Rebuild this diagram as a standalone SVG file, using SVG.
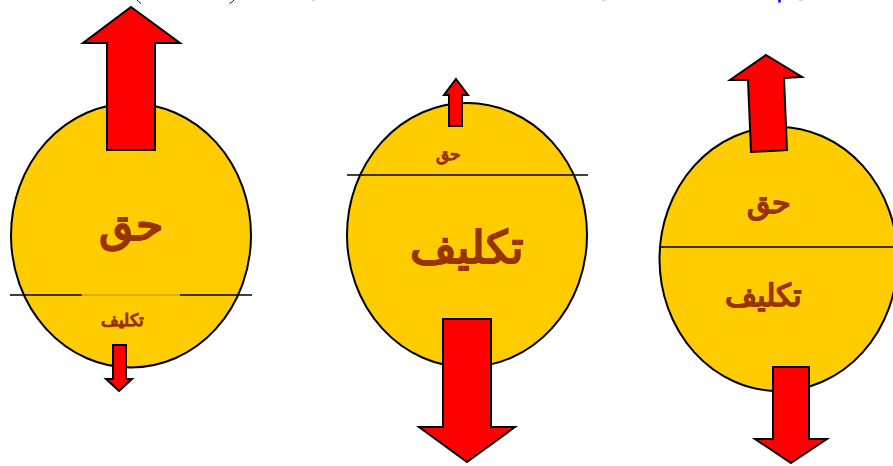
<svg xmlns="http://www.w3.org/2000/svg" width="893" height="466" viewBox="0 0 893 466">
<style>
.b{fill:#ffcc00;stroke:#000;stroke-width:2}
.a{fill:#ff0000;stroke:#000;stroke-width:2;stroke-linejoin:miter}
.l{stroke:#000;stroke-width:1.6;fill:none}
.t{font-family:"Liberation Sans",Arial,sans-serif;font-weight:bold;fill:#993300;stroke:#993300;stroke-width:.4;text-anchor:middle}
</style>
<rect width="893" height="466" fill="#fff"/>
<g id="top-fragments" fill="none" stroke="#0000ff" stroke-width="1">
<path d="M137 0Q138.500 2 141 3.500M234 0Q232.500 2 229.500 3.500"/>
<path d="M779.500 0V2.500" stroke-width="2.500"/>
<path d="M312 0.500H315M602 0.500H605M799 0.500H803" stroke-opacity=".2"/>
</g>
<g id="node-left">
<ellipse class="b" cx="131" cy="235.500" rx="120" ry="132"/>
<path class="l" d="M10 295H82M180 295H252"/>
<path d="M82 295H180" stroke="#b8960a" stroke-width="1" fill="none"/>
<text class="t" x="130.500" y="240" font-size="44">حق</text>
<text class="t" x="122" y="326" font-size="17">تكليف</text>
</g>
<g id="node-middle">
<ellipse class="b" cx="467" cy="235" rx="120" ry="132"/>
<path class="l" d="M347 175H588"/>
<text class="t" x="448.500" y="160" font-size="17">حق</text>
<text class="t" x="467" y="263" font-size="45">تكليف</text>
</g>
<g id="node-right">
<ellipse class="b" cx="778.500" cy="259" rx="119" ry="132"/>
<path class="l" d="M660 247H893"/>
<text class="t" x="769" y="213" font-size="30">حق</text>
<text class="t" x="763" y="306" font-size="31">تكليف</text>
</g>
<g id="connectors">
<path class="a" d="M131 7L180 43H155V150H107V43H83Z"/>
<path class="a" d="M119 391L132 379H126V345H113V379H106Z"/>
<path class="a" d="M456 79L468 95H462V126H449V95H444Z"/>
<path class="a" d="M467 462L515 427H491V319H443V427H419Z"/>
<path class="a" d="M766 55L802 77L784 78L787 150L751 152L748 80L730 80Z"/>
<path class="a" d="M791 463L827 439H809V367H773V439H755Z"/>
</g>
</svg>
